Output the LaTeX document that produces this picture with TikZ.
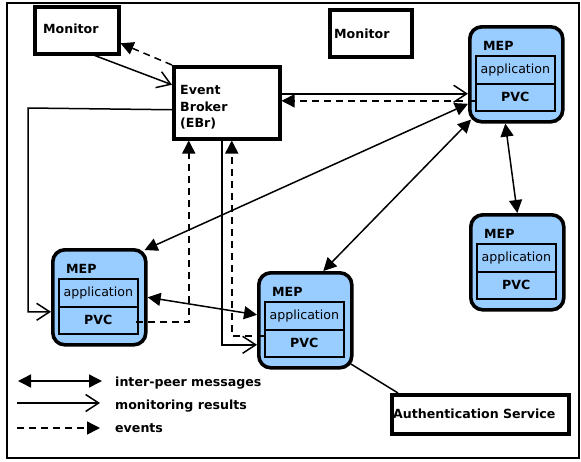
\documentclass[tikz,border=0pt]{standalone}
\usepackage{fontspec}
\setmainfont{DejaVu Sans}
\usetikzlibrary{arrows.meta,calc}
\definecolor{mepblue}{HTML}{99CCFF}
\newcommand\mepnode[3]{%
  \node[mepouter] (#1) at (#2,#3) {};
  \node[lbl] (#1lbl) at (#2+15,#3+25) {MEP};
  \node[inbox,minimum height=28pt] (#1app) at (#2+7,#3+30) {application};
  \node[inbox,minimum height=27pt,font=\fontsize{12.6}{15}\selectfont\bfseries] (#1pvc) at (#2+7,#3+58) {PVC};
}
\begin{document}
\begin{tikzpicture}[x=1pt,y=-1pt,
  font=\fontsize{12.6}{15}\selectfont,
  box/.style={draw,line width=3.5pt,fill=white,inner sep=0pt,anchor=north west},
  mepouter/.style={draw,line width=3.6pt,fill=mepblue,rounded corners=12pt,minimum width=93pt,minimum height=95pt,inner sep=0pt,anchor=north west},
  inbox/.style={draw,line width=1.7pt,minimum width=79pt,inner sep=0pt,anchor=north west},
  lbl/.style={anchor=base west,inner sep=0pt,font=\fontsize{12.6}{15}\selectfont\bfseries},
  conn/.style={line width=1.5pt},
  ipm/.style={conn,{Triangle[length=13pt,width=13pt]}-{Triangle[length=13pt,width=13pt]}},
  monr/.style={conn,-{Straight Barb[length=13pt,width=17pt]}},
  evt/.style={conn,dash pattern=on 7pt off 5pt,-{Triangle[length=13pt,width=13pt]}},
]
\useasboundingbox (0,0) rectangle (581,461);
\fill[white] (0,0) rectangle (581,461);
\draw[line width=1.8pt] (7,3) rectangle (579,458);

% boxes
\node[box,minimum width=84pt,minimum height=47pt] (mon1) at (33,5) {};
\node[lbl] (mon1t) at (43,33) {Monitor};
\node[box,minimum width=82pt,minimum height=47pt] (mon2) at (328,8) {};
\node[lbl] (mon2t) at (334,38) {Monitor};
\node[box,minimum width=106pt,minimum height=72pt] (ebr) at (172,65) {};
\node[lbl] (ebrt1) at (180,94) {Event};
\node[lbl] (ebrt2) at (180,111) {Broker};
\node[lbl] (ebrt3) at (180,127) {(EBr)};
\node[box,minimum width=177pt,minimum height=39pt] (auth) at (390,393) {};
\node[lbl] (autht) at (393,418) {Authentication Service};

% MEPs
\mepnode{mepA}{468}{25}
\mepnode{mepB}{469}{213}
\mepnode{mepC}{51}{248}
\mepnode{mepD}{257}{271}

% connectors
\draw[monr] ([xshift=18pt]mon1.south) -- ([yshift=18pt]ebr.west);
\draw[evt] (ebr.north west) -- ([yshift=-13pt]mon1.east);

\coordinate (c3) at ([yshift=-7pt]ebr.west);
\coordinate (c3b) at (28,108);
\draw[monr] (c3) -- (c3b) |- ([yshift=-14.5pt]mepC.west);

\coordinate (a4) at ([yshift=9pt]ebr.east);
\draw[monr] (a4) -- (a4 -| mepA.west);
\coordinate (d4) at ([yshift=-3.5pt]mepApvc.west);
\draw[evt] (d4) -- (d4 -| ebr.east);

\draw[ipm] ([yshift=-29.5pt]mepA.west) -- ([xshift=-3pt,yshift=-2pt]mepC.north east);
\draw[ipm] ([xshift=3pt,yshift=4pt]mepA.south west) -- ([xshift=18pt]mepD.north);
\draw[ipm] ([xshift=-11pt]mepA.south) -- (mepB.north);
\draw[ipm] (mepC.east) -- ([yshift=5.5pt]mepD.west);

\draw[evt] ([xshift=-3pt,yshift=-1.5pt]mepCpvc.east) -| ([xshift=-38pt]ebr.south);
\draw[monr] ([xshift=-5pt]ebr.south) |- ([yshift=-24.5pt]mepD.west);
\draw[evt] ([yshift=7.5pt]mepDpvc.west) -| ([xshift=5pt]ebr.south);

\draw[conn] ([xshift=-5pt,yshift=7pt]mepD.south east) -- ([xshift=8pt]auth.north west);

% legend
\coordinate (l1a) at (18,381); \coordinate (l1b) at (102,381);
\draw[ipm] (l1a) -- (l1b);
\node[lbl] (l1t) at (115,386) {inter-peer messages};
\coordinate (l2a) at (17,403); \coordinate (l2b) at (100,403);
\draw[monr] (l2a) -- (l2b);
\node[lbl] (l2t) at (115,409) {monitoring results};
\coordinate (l3a) at (17,428); \coordinate (l3b) at (100,428);
\draw[evt] (l3a) -- (l3b);
\node[lbl] (l3t) at (115,432) {events};
\end{tikzpicture}
\end{document}
